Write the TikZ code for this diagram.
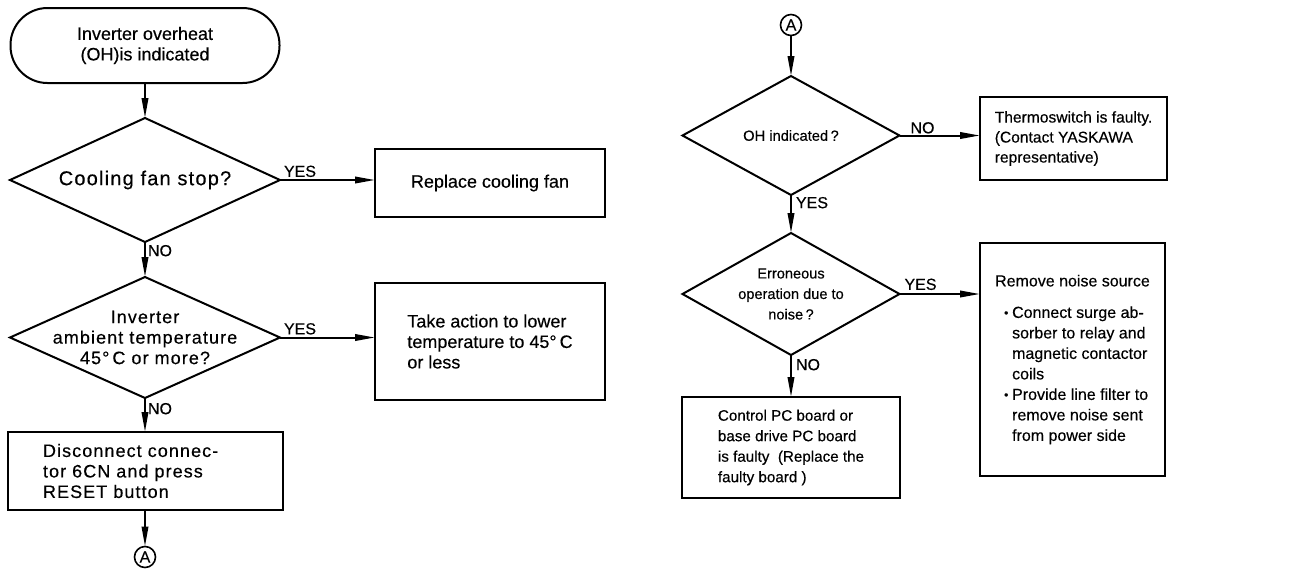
\documentclass[tikz,border=0pt]{standalone}
\usepackage{fontspec}
\setmainfont{Liberation Sans}[FakeBold=0.35]
\newfontfamily\widefont{Liberation Sans}[LetterSpace=6,FakeBold=0.35]
\usetikzlibrary{arrows.meta}
\begin{document}
\begin{tikzpicture}[x=1pt,y=-1pt,
  every node/.style={inner sep=0pt, outer sep=0pt},
  line/.style={line width=2pt},
  flow/.style={line width=2pt, -{Triangle[length=20pt,width=6.5pt]}},
  box/.style={draw, line width=2pt, align=left},
  dia/.style={align=center},
  lbl/.style={font=\fontsize{16}{18}\selectfont},
  conn/.style={draw, circle, line width=1.6pt, minimum size=21pt, font=\fontsize{16}{16}\selectfont},
  fL/.style={font=\fontsize{18}{20.5}\selectfont},
  fR/.style={font=\fontsize{16}{20.5}\selectfont}
]
\useasboundingbox (0,0) rectangle (1290,576);

% ---------- left column ----------
\node[draw, line width=2pt, rounded corners=37pt, minimum width=269pt, minimum height=75pt,
      align=center, fL] (t0) at (145,45.5) {Inverter overheat\\(OH)is indicated};

\node[dia, minimum width=270pt, minimum height=124pt,
      font=\widefont\fontsize{20}{21}\selectfont] (d1) at (145,180) {Cooling fan stop?};
\draw[line] (d1.north) -- (d1.east) -- (d1.south) -- (d1.west) -- cycle;

\node[box, fL, minimum width=230pt, minimum height=68pt] (r1) at (490,183) {Replace cooling fan};

\node[dia, minimum width=270pt, minimum height=121pt,
      font=\widefont\fontsize{18}{20.5}\selectfont] (d2) at (145,337.5)
      {Inverter\\ambient temperature\\45°\,C or more?};
\draw[line] (d2.north) -- (d2.east) -- (d2.south) -- (d2.west) -- cycle;

\node[box, fL, minimum width=230pt, minimum height=117pt] (r2) at (490,341.5)
      {Take action to lower\\temperature to 45°\,C\\or less};

\node[box, minimum width=275pt, minimum height=78pt, text width=204pt,
      font=\widefont\fontsize{18}{20.5}\selectfont] (b3) at (145,471)
      {Disconnect connec-\\tor 6CN and press\\RESET button};

\node[conn] (a1) at (145,557) {A};

\draw[flow] (t0.south) -- (d1.north);
\draw[flow] (d1.south) -- (d2.north);
\draw[flow] (d2.south) -- (b3.north);
\draw[flow] (b3.south) -- (a1.north);
\draw[flow] (d1.east) -- (d1.east -| r1.west);
\draw[flow] (d2.east) -- (d2.east -| r2.west);

\node[lbl, anchor=south west] (y1) at ([xshift=4pt,yshift=3pt]d1.east) {YES};
\node[lbl, anchor=north west] (n1) at ([xshift=3pt,yshift=-3pt]d1.south) {NO};
\node[lbl, anchor=south west] (y2) at ([xshift=4pt,yshift=3pt]d2.east) {YES};
\node[lbl, anchor=north west] (n2) at ([xshift=3pt,yshift=-5pt]d2.south) {NO};

% ---------- right column ----------
\node[conn] (a2) at (791,25) {A};

\node[dia, minimum width=217pt, minimum height=119pt,
      font=\fontsize{14.7}{18}\selectfont] (d3) at (791,135.5) {OH indicated\,?};
\draw[line] (d3.north) -- (d3.east) -- (d3.south) -- (d3.west) -- cycle;

\node[box, font=\fontsize{15.6}{20}\selectfont, minimum width=187pt, minimum height=83pt]
      (r3) at (1073.5,138.5) {Thermoswitch is faulty.\\(Contact YASKAWA\\representative)};

\node[dia, minimum width=217pt, minimum height=122pt,
      font=\fontsize{14.6}{20.5}\selectfont] (d4) at (791,294)
      {Erroneous\\operation due to\\noise\,?};
\draw[line] (d4.north) -- (d4.east) -- (d4.south) -- (d4.west) -- cycle;

\node[box, fR, minimum width=185pt, minimum height=233pt] (r4) at (1072.5,359.5)
      {Remove noise source\\[11pt]
       \hspace*{9pt}\makebox[8pt][l]{\raisebox{1pt}{\fontsize{12}{12}\selectfont•}}Connect surge ab-\\
       \hspace*{17pt}sorber to relay and\\
       \hspace*{17pt}magnetic contactor\\
       \hspace*{17pt}coils\\
       \hspace*{9pt}\makebox[8pt][l]{\raisebox{1pt}{\fontsize{12}{12}\selectfont•}}Provide line filter to\\
       \hspace*{17pt}remove noise sent\\
       \hspace*{17pt}from power side};

\node[box, font=\fontsize{15.2}{20.5}\selectfont, minimum width=218pt, minimum height=101pt]
      (r5) at (791,447.5)
      {Control PC board or\\base drive PC board\\is faulty\ \ (Replace the\\faulty board )};

\draw[flow] (a2.south) -- (d3.north);
\draw[flow] (d3.south) -- (d4.north);
\draw[flow] (d4.south) -- (r5.north);
\draw[flow] (d3.east) -- (d3.east -| r3.west);
\draw[flow] (d4.east) -- (d4.east -| r4.west);

\node[lbl, anchor=south west] (n3) at ([xshift=11pt,yshift=2pt]d3.east) {NO};
\node[lbl, anchor=north west] (y3) at ([xshift=5pt,yshift=-2pt]d3.south) {YES};
\node[lbl, anchor=south west] (y4) at ([xshift=5pt,yshift=4pt]d4.east) {YES};
\node[lbl, anchor=north west] (n4) at ([xshift=5pt,yshift=-4pt]d4.south) {NO};
\end{tikzpicture}
\end{document}
